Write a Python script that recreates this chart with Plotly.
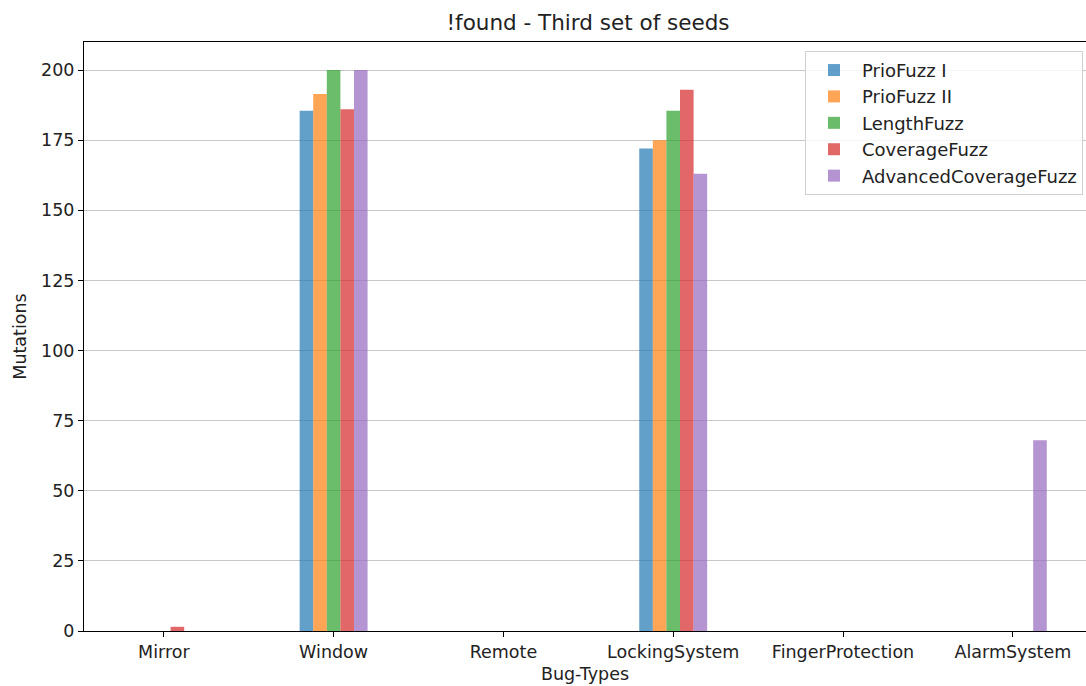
import plotly.graph_objects as go

categories = ["Mirror", "Window", "Remote", "LockingSystem", "FingerProtection", "AlarmSystem"]
prio1 = [0, 185.5, 0, 172, 0, 0]
prio2 = [0, 191.5, 0, 175, 0, 0]
length = [0, 200, 0, 185.5, 0, 0]
coverage = [1.5, 186, 0, 193, 0, 0]
advanced = [0, 200, 0, 163, 0, 68]

series_names = ["PrioFuzz I", "PrioFuzz II", "LengthFuzz", "CoverageFuzz", "AdvancedCoverageFuzz"]
series_values = [prio1, prio2, length, coverage, advanced]
colors = ["#1f77b4", "#ff7f0e", "#2ca02c", "#d62728", "#9467bd"]

fig = go.Figure()
for name, vals, col in zip(series_names, series_values, colors):
    fig.add_trace(go.Bar(x=categories, y=vals, name=name, marker_color=col,
                         opacity=0.7, marker_line_width=0))

font = "DejaVu Sans, Liberation Sans, sans-serif"
fs = 17.5
W, H = 1086, 686
fig.update_layout(
    width=W, height=H,
    margin=dict(l=84, r=0, t=42, b=55),
    paper_bgcolor="white", plot_bgcolor="white",
    barmode="group", bargap=0.6, bargroupgap=0,
    font=dict(family=font, size=fs, color="#222222"),
    title=dict(text="!found - Third set of seeds", x=588 / W, xanchor="center",
               y=1 - 22 / H, yanchor="middle", yref="container",
               font=dict(size=21.5, family=font, color="#222222")),
    legend=dict(x=0.997, y=0.985, xanchor="right", yanchor="top",
                bordercolor="#d0d0d0", borderwidth=1, bgcolor="rgba(255,255,255,0.8)",
                font=dict(size=18, family=font), tracegroupgap=0, itemwidth=46),
    xaxis=dict(range=[-0.47, 5.431], showgrid=False, showline=True, linecolor="black",
               linewidth=1, mirror=True, ticks="outside", ticklen=5, tickcolor="black",
               automargin=False,
               title=dict(text="Bug-Types", standoff=6, font=dict(size=fs))),
    yaxis=dict(range=[0, 210], dtick=25, tick0=0, showgrid=True, gridcolor="#c8c8c8",
               gridwidth=1, zeroline=False, showline=True, linecolor="black", linewidth=1,
               mirror=False, ticks="outside", ticklen=5, tickcolor="black",
               automargin=False,
               title=dict(text="Mutations", standoff=9, font=dict(size=fs))),
)

fig.write_html("out.html", default_width="1086px", default_height="686px",
               config={"displayModeBar": False},
               post_script="document.body.style.margin='0';")
